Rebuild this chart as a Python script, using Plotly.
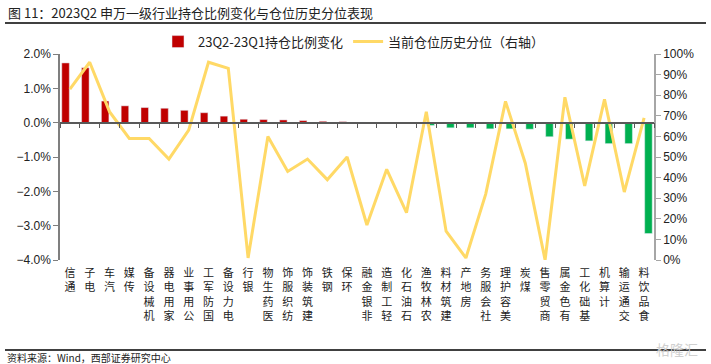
import plotly.graph_objects as go

categories = ["通信", "电子", "汽车", "传媒", "机械设备", "家用电器", "公用事业", "国防军工",
              "电力设备", "银行", "医药生物", "纺织服饰", "建筑装饰", "钢铁", "环保", "非银金融",
              "轻工制造", "石油石化", "农林牧渔", "建筑材料", "房地产", "社会服务", "美容护理",
              "煤炭", "商贸零售", "有色金属", "基础化工", "计算机", "交通运输", "食品饮料"]

# 23Q2-23Q1 holding ratio change (%)
holding_change = [1.74, 1.60, 0.63, 0.49, 0.44, 0.42, 0.36, 0.29,
                  0.19, 0.10, 0.09, 0.08, 0.06, 0.04, 0.03, 0.01,
                  -0.01, -0.02, -0.08, -0.15, -0.15, -0.18, -0.18,
                  -0.19, -0.41, -0.48, -0.53, -0.61, -0.61, -3.23]

# current position historical percentile (%)
percentile = [83, 96, 72, 59, 59, 49, 63, 96,
              93, 1, 60, 43, 49, 39, 50, 17,
              44, 23, 72, 14, 1, 32, 77,
              47, 0, 79, 36, 78, 33, 69]

left_ticks = [-4, -3, -2, -1, 0, 1, 2]
right_ticks = [0, 10, 20, 30, 40, 50, 60, 70, 80, 90, 100]

series_bar = "23Q2-23Q1持仓比例变化"
series_line = "当前仓位历史分位（右轴）"
title_text = "图 11：2023Q2 申万一级行业持仓比例变化与仓位历史分位表现"
source_text = "资料来源：Wind，西部证券研究中心"

pos_vals = [v / 100 if v > 0 else None for v in holding_change]
neg_vals = [v / 100 if v < 0 else None for v in holding_change]
pct_vals = [p / 100 for p in percentile]

# vertical labels: read bottom-to-top, top aligned
tick_text = ["<br>".join(reversed(c)) for c in categories]

CJK = "Noto Sans CJK SC"
LAT = "Liberation Sans, Arial, sans-serif"

fig = go.Figure()
fig.add_trace(go.Bar(x=categories, y=pos_vals, name=series_bar, marker_color="#C00000",
                     width=0.38, offset=-0.41, xaxis="x", yaxis="y"))
fig.add_trace(go.Bar(x=categories, y=neg_vals, name="neg", marker_color="#00B050",
                     width=0.38, offset=0.03, showlegend=False, xaxis="x", yaxis="y"))
fig.add_trace(go.Scatter(x=categories, y=pct_vals, name=series_line, mode="lines",
                         line=dict(color="#FFD966", width=3), xaxis="x", yaxis="y2"))
# invisible trace to carry the zero-line category axis
fig.add_trace(go.Scatter(x=categories, y=[None] * len(categories), xaxis="x2", yaxis="y",
                         showlegend=False, hoverinfo="skip"))

axis_col = "#7F7F7F"
fig.update_layout(
    width=711, height=364,
    margin=dict(l=60, r=57, t=54, b=104, autoexpand=False),
    paper_bgcolor="white", plot_bgcolor="white",
    barmode="overlay",
    font=dict(family=CJK, size=12, color="#222"),
    title=dict(text=title_text, x=8 / 711, xanchor="left", xref="container",
               y=1 - 13 / 364, yanchor="middle", yref="container",
               font=dict(family=CJK, size=13, color="#222")),
    legend=dict(orientation="h", x=0.165, xanchor="left", y=1.06, yanchor="middle",
                font=dict(family=CJK, size=13, color="#222"), bgcolor="rgba(0,0,0,0)",
                itemwidth=30, tracegroupgap=0),
    xaxis=dict(type="category", categoryorder="array", categoryarray=categories,
               tickmode="array", tickvals=categories, ticktext=tick_text,
               showline=False, ticks="", showgrid=False, tickangle=0, automargin=False,
               ticklabelstandoff=5,
               tickfont=dict(family=CJK, size=11, color="#222"), range=[-0.5, 29.5]),
    xaxis2=dict(type="category", categoryorder="array", categoryarray=categories,
                overlaying="x", anchor="free", position=2 / 3, matches="x",
                showline=True, linecolor="#595959", linewidth=1.5,
                ticks="outside", ticklen=5, tickcolor="#595959", tickson="boundaries",
                showticklabels=False, showgrid=False),
    yaxis=dict(range=[-0.04, 0.02], tickmode="array", tickvals=[t / 100 for t in left_ticks],
               tickformat=".1%", showgrid=False, zeroline=False, automargin=False,
               showline=True, linecolor=axis_col, linewidth=1.5, ticks="outside",
               ticklen=5, tickcolor=axis_col,
               tickfont=dict(family=LAT, size=12, color="#222")),
    yaxis2=dict(range=[0, 1], tickmode="array", tickvals=[t / 100 for t in right_ticks],
                tickformat=".0%", overlaying="y", side="right", showgrid=False, zeroline=False,
                showline=True, linecolor="#A6A6A6", linewidth=1.5, ticks="outside",
                ticklen=5, tickcolor="#A6A6A6", automargin=False,
                tickfont=dict(family=LAT, size=12, color="#222")),
)

x0 = -55 / 594
x1 = 646 / 594
for ypx in (23, 350):
    fig.add_shape(type="line", xref="paper", yref="paper", layer="above",
                  x0=x0, x1=x1, y0=(260 - ypx) / 206, y1=(260 - ypx) / 206,
                  line=dict(color="#404040", width=2))
fig.add_annotation(text=source_text, xref="paper", yref="paper", x=x0, y=(260 - 357) / 206,
                   xanchor="left", yanchor="middle", showarrow=False,
                   font=dict(family=CJK, size=10, color="#222"))
fig.add_annotation(text="格隆汇", xref="paper", yref="paper", x=(700 - 60) / 594,
                   y=(260 - 349) / 206, xanchor="right", yanchor="middle", showarrow=False,
                   font=dict(family=CJK, size=14, color="#D0D0D0"))

fig.write_html("out.html", config={"displayModeBar": False},
               post_script="document.body.style.margin='0';")
